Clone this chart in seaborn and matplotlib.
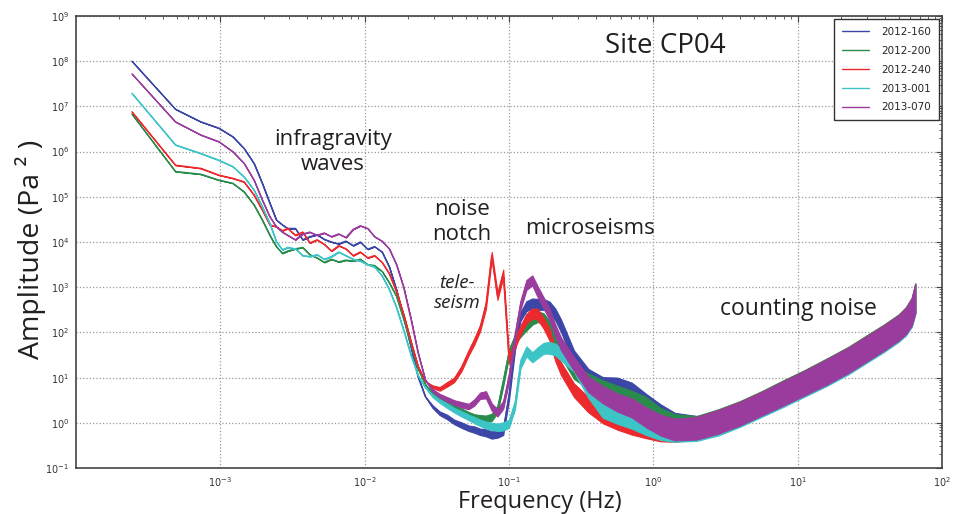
import numpy as np
import pandas as pd
import matplotlib
matplotlib.use("Agg")
import matplotlib.pyplot as plt
import seaborn as sns
from matplotlib.ticker import FixedLocator, LogLocator, NullFormatter, LogFormatterSciNotation

sns.set_style("white")
plt.rcParams["font.family"] = ["Open Sans", "DejaVu Sans"]
plt.rcParams["mathtext.fontset"] = "dejavusans"

# Frequency bins (Hz): the first twelve are the raw PSD bins, then a log grid
FREQ_HZ = [
    0.000244, 0.000488, 0.000732, 0.000977, 0.00122, 0.00146, 0.00171, 0.00195, 0.00220, 0.00244, 0.00269, 0.00293,
    0.00331, 0.00372, 0.00417, 0.00468, 0.00525, 0.00589, 0.00661, 0.00741, 0.00832, 0.00933, 0.0105, 0.0117, 0.0132,
    0.0148, 0.0166, 0.0186, 0.0209, 0.0234, 0.0263, 0.0295, 0.0331, 0.0372, 0.0417, 0.0468, 0.0525,
    0.0575, 0.0631, 0.0692, 0.0759, 0.0832, 0.0912, 0.100, 0.110, 0.120, 0.132, 0.145, 0.158, 0.174, 0.191, 0.209, 0.229,
    0.282, 0.355, 0.447, 0.562, 0.708, 0.891, 1.12, 1.41, 2.00, 2.82, 3.98, 5.62, 7.94, 11.2, 15.8, 22.4, 31.6, 39.8,
    50.1, 56.2, 61.7, 65.3,
]

# log10 of the pressure power spectral density (Pa^2) for each deployment day
LOG_AMP_2012_160 = [
    8.00, 6.94, 6.66, 6.52, 6.33, 6.07, 5.74, 5.30, 4.86, 4.49, 4.38, 4.30,
    4.30, 4.05, 4.12, 4.16, 4.06, 4.00, 3.96, 4.02, 3.92, 4.00, 3.84, 3.90, 3.78,
    3.45, 2.94, 2.35, 1.68, 1.02, 0.58, 0.36, 0.21, 0.13, 0.02, -0.05, -0.12,
    -0.15, -0.20, -0.22, -0.27, -0.25, -0.18, 0.60, 1.70, 2.35, 2.58, 2.64, 2.62, 2.62, 2.55, 2.40, 2.15,
    1.45, 1.02, 0.82, 0.80, 0.68, 0.42, 0.18, -0.02, -0.10, 0.02, 0.20, 0.42, 0.65, 0.88, 1.12, 1.38, 1.68, 1.88,
    2.10, 2.25, 2.45, 2.75,
]
LOG_AMP_2012_200 = [
    6.83, 5.56, 5.50, 5.37, 5.30, 5.11, 4.82, 4.49, 4.15, 3.90, 3.75, 3.80,
    3.85, 3.88, 3.72, 3.65, 3.55, 3.62, 3.56, 3.60, 3.58, 3.62, 3.50, 3.48, 3.35,
    3.10, 2.80, 2.30, 1.75, 1.20, 0.85, 0.65, 0.52, 0.42, 0.34, 0.26, 0.18,
    0.12, 0.10, 0.08, 0.12, 0.30, 0.90, 1.55, 1.85, 2.00, 2.15, 2.28, 2.35, 2.30, 2.12, 1.85, 1.60,
    1.12, 0.92, 0.75, 0.62, 0.50, 0.35, 0.10, -0.05, -0.10, 0.04, 0.22, 0.44, 0.67, 0.90, 1.14, 1.40, 1.70, 1.90,
    2.12, 2.27, 2.47, 2.77,
]
LOG_AMP_2012_240 = [
    6.88, 5.70, 5.63, 5.48, 5.41, 5.33, 5.04, 4.71, 4.38, 4.34, 4.25, 4.30,
    4.15, 4.22, 3.98, 4.05, 3.95, 3.80, 3.92, 3.85, 3.70, 3.78, 3.65, 3.70, 3.55,
    3.30, 2.90, 2.40, 1.80, 1.25, 0.92, 0.80, 0.75, 0.85, 0.95, 1.20, 1.55,
    1.80, 2.10, 2.60, 3.70, 2.80, 3.30, 1.40, 1.75, 2.05, 2.30, 2.42, 2.40, 2.20, 1.95, 1.50, 1.20,
    0.72, 0.40, 0.18, 0.05, -0.05, -0.12, -0.18, -0.18, -0.12, 0.02, 0.20, 0.42, 0.65, 0.88, 1.12, 1.38, 1.68, 1.88,
    2.10, 2.25, 2.45, 2.75,
]
LOG_AMP_2013_001 = [
    7.29, 6.15, 5.96, 5.81, 5.67, 5.44, 5.15, 4.78, 4.41, 4.01, 3.83, 3.88,
    3.85, 3.70, 3.68, 3.72, 3.62, 3.68, 3.78, 3.70, 3.62, 3.58, 3.50, 3.45, 3.25,
    2.95, 2.55, 2.05, 1.50, 1.05, 0.78, 0.60, 0.48, 0.38, 0.28, 0.20, 0.12,
    0.06, 0.00, -0.05, -0.08, -0.10, -0.08, -0.02, 0.40, 1.30, 1.58, 1.45, 1.55, 1.65, 1.66, 1.62, 1.52,
    1.28, 0.72, 0.30, 0.18, 0.08, -0.05, -0.15, -0.18, -0.15, -0.02, 0.17, 0.39, 0.62, 0.85, 1.09, 1.35, 1.65, 1.85,
    2.07, 2.22, 2.42, 2.72,
]
LOG_AMP_2013_070 = [
    7.72, 6.66, 6.37, 6.22, 6.00, 5.74, 5.37, 4.93, 4.56, 4.34, 4.22, 4.15,
    4.05, 4.18, 4.22, 4.15, 4.20, 4.12, 4.18, 4.10, 4.28, 4.36, 4.30, 4.12, 4.02,
    3.85, 3.50, 3.00, 2.30, 1.55, 0.95, 0.72, 0.60, 0.52, 0.45, 0.40, 0.36,
    0.45, 0.60, 0.62, 0.35, 0.22, 0.40, 1.00, 1.90, 2.60, 3.05, 3.15, 2.90, 2.65, 2.40, 2.05, 1.75,
    1.30, 0.85, 0.62, 0.45, 0.33, 0.12, -0.05, -0.15, -0.12, 0.02, 0.20, 0.42, 0.65, 0.88, 1.12, 1.38, 1.68, 1.88,
    2.10, 2.25, 2.45, 2.75,
]

# Half-width (decades) of the scatter of the spectral estimate around each value
NOISE_HALF_WIDTH = [
    0, 0, 0, 0, 0, 0, 0, 0, 0, 0, 0, 0,
    0, 0, 0, 0, 0, 0, 0, 0, 0, 0, 0, 0, 0,
    0, 0, 0, 0, 0, 0, 0.03, 0.04, 0.05, 0.05, 0.06, 0.06,
    0.07, 0.07, 0.08, 0.08, 0.08, 0.09, 0.09, 0.10, 0.10, 0.11, 0.11, 0.12, 0.12, 0.13, 0.13, 0.14,
    0.15, 0.17, 0.19, 0.20, 0.21, 0.22, 0.23, 0.24, 0.25, 0.26, 0.26, 0.26, 0.27, 0.27, 0.28, 0.28, 0.28, 0.28,
    0.28, 0.29, 0.30, 0.32,
]

DAYS = ["2012-160", "2012-200", "2012-240", "2013-001", "2013-070"]
SERIES = [LOG_AMP_2012_160, LOG_AMP_2012_200, LOG_AMP_2012_240, LOG_AMP_2013_001, LOG_AMP_2013_070]
COLORS = ["#3c46a6", "#2a8c4c", "#ec2a2e", "#3cc4c6", "#9a3c9e"]

X_TICKS = [1e-3, 1e-2, 1e-1, 1e0, 1e1, 1e2]
Y_TICKS = [1e-1, 1e0, 1e1, 1e2, 1e3, 1e4, 1e5, 1e6, 1e7, 1e8, 1e9]

W, H = 954, 514
fig = plt.figure(figsize=(W / 100, H / 100), dpi=100)
ax = fig.add_axes([76 / W, 1 - 468 / H, (942 - 76) / W, (468 - 16) / H])

freq = np.array(FREQ_HZ)
spread = np.array(NOISE_HALF_WIDTH)
for i, (day, logamp, color) in enumerate(zip(DAYS, SERIES, COLORS)):
    centre = np.array(logamp)
    df = pd.DataFrame({"freq": freq, "amp": 10 ** centre})
    ax.fill_between(freq, 10 ** (centre - spread), 10 ** (centre + spread),
                    color=color, lw=0.8, zorder=2 + i)
    sns.lineplot(data=df, x="freq", y="amp", ax=ax, color=color, lw=1.0,
                 estimator=None, sort=False, label=day, zorder=2.5 + i)

ax.set_xscale("log")
ax.set_yscale("log")
ax.set_xlim(1e-4, 1e2)
ax.set_ylim(1e-1, 1e9)
ax.xaxis.set_major_locator(FixedLocator(X_TICKS))
ax.yaxis.set_major_locator(FixedLocator(Y_TICKS))
ax.xaxis.set_major_formatter(LogFormatterSciNotation())
ax.yaxis.set_major_formatter(LogFormatterSciNotation())
ax.xaxis.set_minor_locator(LogLocator(base=10, subs=np.arange(2, 10), numticks=30))
ax.yaxis.set_minor_locator(LogLocator(base=10, subs=np.arange(2, 10), numticks=30))
ax.xaxis.set_minor_formatter(NullFormatter())
ax.yaxis.set_minor_formatter(NullFormatter())
ax.tick_params(which="both", direction="in", top=True, right=True, colors="#444444",
               labelcolor="#333333", labelsize=7)
ax.tick_params(which="major", length=4, width=0.8, pad=5)
ax.tick_params(which="minor", length=2, width=0.6)
for lab in ax.get_xticklabels() + ax.get_yticklabels():
    lab.set_family("DejaVu Sans")
ax.grid(True, which="major", linestyle=":", color="#9a9a9a", lw=0.9)
for sp in ax.spines.values():
    sp.set_color("#444444")
    sp.set_linewidth(1.2)
ax.set_xlabel("")
ax.set_ylabel("")

leg = ax.legend(loc="upper right", prop={"family": "DejaVu Sans", "size": 7.5},
                frameon=True, fancybox=False, edgecolor="#333333", framealpha=1,
                handlelength=2.6, labelspacing=0.85, borderpad=0.75, handletextpad=1.2,
                borderaxespad=0.3)
leg.get_frame().set_linewidth(1.0)
for line in leg.get_lines():
    line.set_linewidth(1.0)

txt = dict(color="#231f20", ha="center", va="center")
fig.text(665 / W, 1 - 46 / H, "Site CP04", fontsize=20, **txt)
fig.text(333 / W, 1 - 152 / H, "infragravity\nwaves", fontsize=16, linespacing=1.25, **txt)
fig.text(462 / W, 1 - 222 / H, "noise\nnotch", fontsize=16, linespacing=1.2, **txt)
fig.text(457 / W, 1 - 293 / H, "tele-\nseism", fontsize=13.5, style="italic", linespacing=1.15, **txt)
fig.text(590 / W, 1 - 228 / H, "microseisms", fontsize=16, **txt)
fig.text(798 / W, 1 - 309 / H, "counting noise", fontsize=16.5, **txt)
fig.text(540 / W, 1 - 502 / H, "Frequency (Hz)", fontsize=17, **txt)
fig.text(31 / W, 1 - 249 / H, "Amplitude (Pa \u00b2 )", fontsize=20.5, rotation=90, **txt)

fig.savefig("out.png", dpi=100)
